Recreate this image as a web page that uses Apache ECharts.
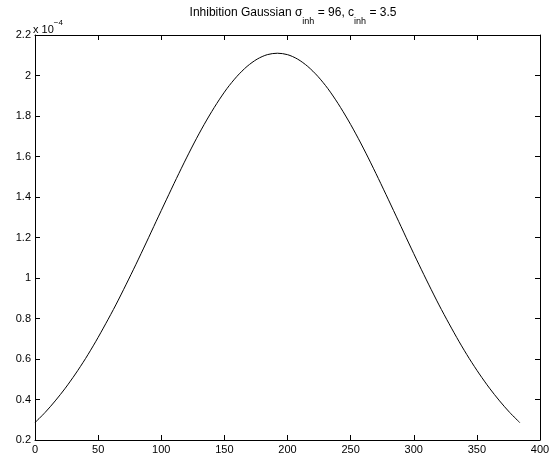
<!DOCTYPE html>
<html><head><meta charset="utf-8">
<script src="https://cdn.jsdelivr.net/npm/echarts@6/dist/echarts.min.js"></script>
<style>html,body{margin:0;padding:0;background:#fff}#c{width:560px;height:459px}</style>
</head><body><div id="c"></div>
<script>
// x positions (samples)
const xValues = [0,8,16,24,32,40,48,56,64,72,80,88,96,104,112,120,128,136,144,152,160,168,176,184,192,
  200,208,216,224,232,240,248,256,264,272,280,288,296,304,312,320,328,336,344,352,360,368,376,384];
// y values in units of 1e-4
const yValues = [0.286,0.336,0.393,0.456,0.526,0.602,0.685,0.774,0.867,0.966,1.068,1.173,1.280,1.386,1.491,1.593,1.690,1.780,1.862,1.935,1.996,2.045,2.081,2.103,2.110,
  2.103,2.081,2.045,1.996,1.935,1.862,1.780,1.690,1.593,1.491,1.386,1.280,1.173,1.068,0.966,0.867,0.774,0.685,0.602,0.526,0.456,0.393,0.336,0.286];
const xTicks = [0,50,100,150,200,250,300,350,400];
const yTicks = [0.2,0.4,0.6,0.8,1,1.2,1.4,1.6,1.8,2,2.2];

const FONT = 'Liberation Sans, Arial, Helvetica, sans-serif';
const chart = echarts.init(document.getElementById('c'), null, {renderer:'canvas'});
const data = xValues.map((x,i)=>[x,yValues[i]]);
const axisBase = {
  axisLine:{show:true,onZero:false,lineStyle:{color:'#000',width:1}},
  axisTick:{show:true,inside:true,length:5,lineStyle:{color:'#000'}},
  splitLine:{show:false}
};
chart.setOption({
  animation:false,
  backgroundColor:'#fff',
  title:{
    text:'{a|Inhibition Gaussian σ}{s|inh}{a| = 96, c}{s|inh}{a| = 3.5}',
    left:288, top:2, textAlign:'center',
    textStyle:{fontWeight:'normal',rich:{
      a:{fontFamily:FONT,fontSize:12,fontWeight:'normal',color:'#000',lineHeight:19,verticalAlign:'top'},
      s:{fontFamily:FONT,fontSize:9,fontWeight:'normal',color:'#000',lineHeight:19,verticalAlign:'bottom'}
    }}
  },
  graphic:[{
    type:'text', left:33, top:19,
    style:{
      text:'{a|x 10}{p|−4}',
      rich:{
        a:{fontFamily:FONT,fontSize:11,fill:'#000',lineHeight:16,verticalAlign:'bottom'},
        p:{fontFamily:FONT,fontSize:8,fill:'#000',lineHeight:16,verticalAlign:'top'}
      }
    }
  }],
  grid:{left:35,right:20,top:35,bottom:19},
  xAxis:[
    Object.assign({type:'value',min:xTicks[0],max:xTicks[xTicks.length-1],interval:50,position:'bottom',
      axisLabel:{color:'#000',fontFamily:FONT,fontSize:11,margin:4}},axisBase),
    Object.assign({type:'value',min:xTicks[0],max:xTicks[xTicks.length-1],interval:50,position:'top',
      axisLabel:{show:false}},axisBase)
  ],
  yAxis:[
    Object.assign({type:'value',min:yTicks[0],max:yTicks[yTicks.length-1],interval:0.2,position:'left',
      axisLabel:{color:'#000',fontFamily:FONT,fontSize:11,margin:4,formatter:v=>String(+v.toFixed(1))}},axisBase),
    Object.assign({type:'value',min:yTicks[0],max:yTicks[yTicks.length-1],interval:0.2,position:'right',
      axisLabel:{show:false}},axisBase)
  ],
  series:[{
    type:'line', data:data, smooth:0.3, showSymbol:false, symbol:'none',
    lineStyle:{color:'#000',width:1}, xAxisIndex:0, yAxisIndex:0
  }]
});
</script></body></html>
